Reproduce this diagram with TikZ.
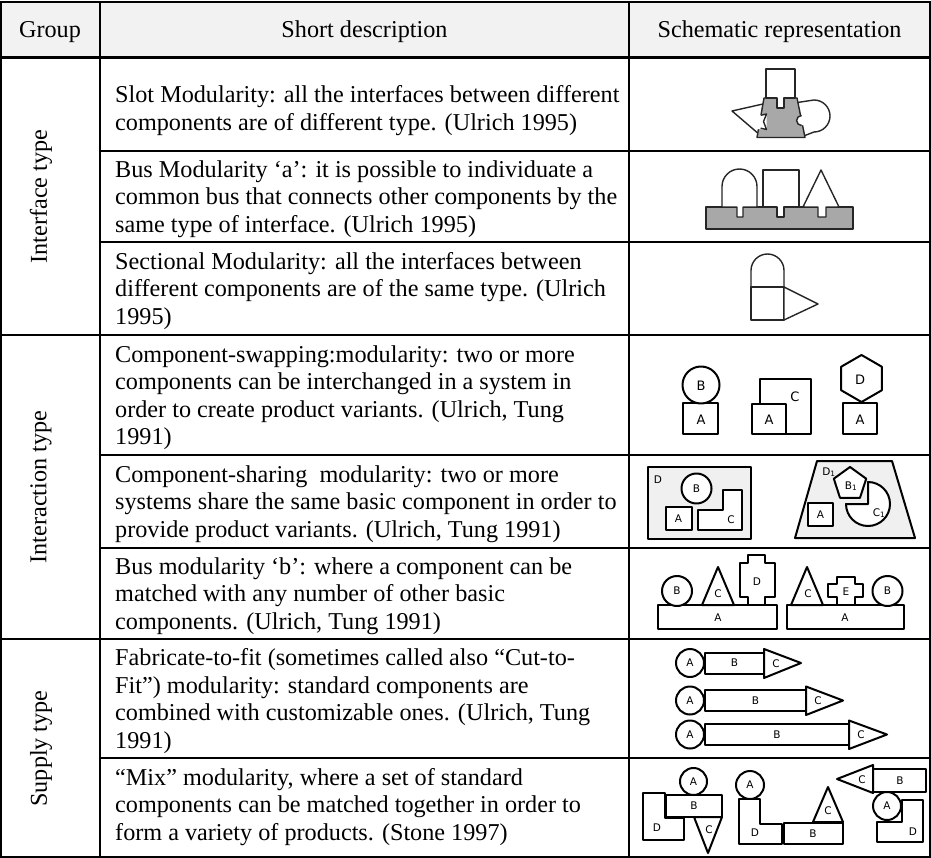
\documentclass[tikz,border=0pt]{standalone}
\usepackage{fontspec}
\setmainfont{Liberation Serif}
\newfontfamily\lblfont{DejaVu Sans}
\definecolor{hdrgray}{RGB}{242,242,242}
\definecolor{partgray}{RGB}{168,168,168}
\definecolor{panelgray}{RGB}{240,240,240}
\begin{document}
\begin{tikzpicture}[x=1pt,y=-1pt,line join=round,
  body/.style={font=\fontsize{24.2}{27.6}\selectfont,inner sep=0pt,anchor=north west,align=left},
  hdr/.style={font=\fontsize{24.2}{27.6}\selectfont,inner sep=0pt,anchor=base},
  grp/.style={font=\fontsize{24.2}{27.6}\selectfont,inner sep=0pt,rotate=90},
  thickrule/.style={line width=2.4pt},
  thinrule/.style={line width=1.6pt},
  thin/.style={draw=black!85,line width=1.4pt},
  shp/.style={draw=black,line width=2pt,fill=white},
  lbl/.style={font=\lblfont\fontsize{10.5}{10.5}\selectfont,inner sep=0pt},
  biglbl/.style={font=\lblfont\fontsize{13}{13}\selectfont,inner sep=0pt}]
\useasboundingbox (0,0) rectangle (931,858);

% header band
\fill[hdrgray] (1,2) rectangle (930,57.5);

% rules of the table
\draw[thickrule] (0,2) -- (931,2);
\draw[thickrule] (1,57.5) -- (930,57.5);
\draw[thinrule] (100,151) -- (930,151);
\draw[thinrule] (100,242) -- (930,242);
\draw[thickrule] (1,335) -- (930,335);
\draw[thinrule] (100,455) -- (930,455);
\draw[thinrule] (100,548) -- (930,548);
\draw[thickrule] (1,639) -- (930,639);
\draw[thinrule] (100,758) -- (930,758);
\draw[thickrule] (0,857) -- (931,857);
\foreach \xx in {1,100,629,930} \draw[thinrule] (\xx,2) -- (\xx,857);

% header
\node[hdr] (hgroup) at (50,37.5) {Group};
\node[hdr] (hdesc) at (364.5,37.5) {Short description};
\node[hdr] (hschem) at (779.5,37.5) {Schematic representation};

% group labels
\node[grp] (g1) at (41,196.5) {Interface type};
\node[grp] (g2) at (41,487) {Interaction type};
\node[grp] (g3) at (41,748.5) {Supply type};

% descriptions
\node[body] (d1) at (115,83.2) {\strut Slot Modularity: all the interfaces between different\\
\strut components are of different type. (Ulrich 1995)};
\node[body] (d2) at (115,157.8) {\strut Bus Modularity ‘a’: it is possible to individuate a\\
\strut common bus that connects other components by the\\
\strut same type of interface. (Ulrich 1995)};
\node[body] (d3) at (115,249.8) {\strut Sectional Modularity: all the interfaces between\\
\strut different components are of the same type. (Ulrich\\
\strut 1995)};
\node[body] (d4) at (115,342.5) {\strut Component-swapping:modularity: two or more\\
\strut components can be interchanged in a system in\\
\strut order to create product variants. (Ulrich, Tung\\
\strut 1991)};
\node[body] (d5) at (115,462.8) {\strut Component-sharing\ \ modularity: two or more\\
\strut systems share the same basic component in order to\\
\strut provide product variants. (Ulrich, Tung 1991)};
\node[body] (d6) at (115,554.8) {\strut Bus modularity ‘b’: where a component can be\\
\strut matched with any number of other basic\\
\strut components. (Ulrich, Tung 1991)};
\node[body] (d7) at (115,646.0) {\strut Fabricate-to-fit (sometimes called also “Cut-to-\\
\strut Fit”) modularity: standard components are\\
\strut combined with customizable ones. (Ulrich, Tung\\
\strut 1991)};
\node[body] (d8) at (115,765.7) {\strut “Mix” modularity, where a set of standard\\
\strut components can be matched together in order to\\
\strut form a variety of products. (Stone 1997)};

% ---- slot modularity
\draw[thin,fill=white] (732,111) -- (763,104) -- (760,135) -- cycle;
\draw[thin,fill=white] (794,103) -- (814,100) arc[start angle=90,end angle=-90,radius=16pt] -- (801,137) -- cycle;
\draw[thin,fill=partgray] (764,98) -- (797,98) -- (805,137.5) -- (757,137.5) -- cycle;
\draw[thin,fill=white] (766,69) -- (795,69) -- (795,98) -- (784,98) -- (784,108) -- (777,108) -- (777,98) -- (766,98) -- cycle;
\fill[white] (801.6,120.5) circle[radius=5pt];
\draw[thin] (801.6,115.5) arc[start angle=90,end angle=270,radius=5pt];
\fill[white] (756,115.5) -- (766.5,114) -- (766.5,129.5) -- (756,129) -- cycle;
\draw[thin] (760.7,115.3) -- (766.5,114) -- (763.5,121.5) -- (766.5,129.5) -- (760.6,128.2);

% ---- bus modularity a
\draw[thin,fill=partgray] (706,207) rectangle (853,229);
\draw[thin,fill=white] (722,207) -- (722,186.5) arc[start angle=180,end angle=0,radius=17.5pt] -- (757,207) -- (743,207) -- (743,217) -- (737,217) -- (737,207) -- cycle;
\draw[thin,fill=white] (763,207) -- (763,170) -- (799,170) -- (799,207) -- (784,207) -- (784,217) -- (777,217) -- (777,207) -- cycle;
\draw[thin,fill=white] (803,207) -- (821,170) -- (839,207) -- (826,207) -- (826,217) -- (818,217) -- (818,207) -- cycle;

% ---- sectional modularity
\draw[thin,fill=white] (751,287) -- (751,270.5) arc[start angle=180,end angle=0,radius=16.5pt] -- (784,287) -- cycle;
\draw[thin,fill=white] (751,287) rectangle (784,320);
\draw[thin,fill=white] (784,287) -- (818,304) -- (784,320) -- cycle;

% ---- component swapping
\draw[shp] (683,403) rectangle (718,434);
\draw[shp] (701,385) circle[radius=18.5pt];
\node[biglbl] (s1b) at (701,386) {B};
\node[biglbl] (s1a) at (701,420) {A};
\draw[shp] (760,379) rectangle (811,433.5);
\draw[shp] (752,404) rectangle (786,433.5);
\node[biglbl] (s2c) at (795,397) {C};
\node[biglbl] (s2a) at (769,420) {A};
\draw[shp] (843,403) rectangle (877,433.5);
\draw[shp] (861.5,355) -- (881.85,366.75) -- (881.85,390.25) -- (861.5,402) -- (841.15,390.25) -- (841.15,366.75) -- cycle;
\node[biglbl] (s3d) at (860,380) {D};
\node[biglbl] (s3a) at (860,420) {A};

% ---- component sharing
\draw[shp,fill=panelgray] (648,467) rectangle (751,539);
\node[lbl] (p1d) at (658,480) {D};
\draw[shp] (696.5,488.5) circle[radius=15pt];
\node[lbl] (p1b) at (696.5,489) {B};
\draw[shp] (665.5,507) rectangle (692,530);
\node[lbl] (p1a) at (678.5,519) {A};
\draw[shp] (698,510) -- (723,510) -- (723,490) -- (742,490) -- (742,530) -- (698,530) -- cycle;
\node[lbl] (p1c) at (731,520) {C};
\draw[shp,fill=panelgray] (817,461) -- (892,461) -- (915,538) -- (795,538) -- cycle;
\node[lbl] (p2d) at (829,472) {D\textsubscript{1}};
\draw[shp] (850,467) -- (866.2,478.7) -- (860,497.8) -- (840,497.8) -- (833.8,478.7) -- cycle;
\node[lbl] (p2b) at (851,486) {B\textsubscript{1}};
\draw[shp] (808,503) rectangle (833,526);
\node[lbl] (p2a) at (820.5,515) {A};
\draw[shp] (868,482) arc[start angle=90,end angle=-180,radius=22pt] -- (868,504) -- cycle;
\node[lbl] (p2c) at (879,513) {C\textsubscript{1}};

% ---- bus modularity b
\draw[shp] (658,605) rectangle (777,629);
\node[lbl] (b1a) at (718,618) {A};
\draw[shp] (677,591) circle[radius=15pt];
\node[lbl] (b1b) at (677,591) {B};
\draw[shp] (702,605) -- (718,567) -- (734,605) -- cycle;
\node[lbl] (b1c) at (718,594) {C};
\draw[shp] (748,555) -- (765,555) -- (765,563) -- (775,563) -- (775,597) -- (765,597) -- (765,605) -- (748,605) -- (748,597) -- (740,597) -- (740,563) -- (748,563) -- cycle;
\node[lbl] (b1d) at (757,582) {D};
\draw[shp] (787,605) rectangle (904,629);
\node[lbl] (b2a) at (845,618) {A};
\draw[shp] (791,605) -- (807,567) -- (823,605) -- cycle;
\node[lbl] (b2c) at (808,594) {C};
\draw[shp] (837,577) -- (855,577) -- (855,584) -- (863,584) -- (863,597) -- (855,597) -- (855,605) -- (837,605) -- (837,597) -- (828,597) -- (828,584) -- (837,584) -- cycle;
\node[lbl] (b2e) at (846,592) {E};
\draw[shp] (887.5,591) circle[radius=15pt];
\node[lbl] (b2b) at (887.5,591) {B};

% ---- fabricate to fit
\draw[shp] (705,652.5) rectangle (764,673.5);
\draw[shp] (764,649) -- (801,663) -- (764,678) -- cycle;
\draw[shp] (690,663) circle[radius=14pt];
\node[lbl] (f1a) at (690,663) {A};
\node[lbl] (f1b) at (734.5,663) {B};
\node[lbl] (f1c) at (776,664) {C};
\draw[shp] (705,690) rectangle (806,711);
\draw[shp] (806,686.5) -- (843,700.5) -- (806,715) -- cycle;
\draw[shp] (690,700.5) circle[radius=14pt];
\node[lbl] (f2a) at (690,700.5) {A};
\node[lbl] (f2b) at (755.5,700.5) {B};
\node[lbl] (f2c) at (818,701) {C};
\draw[shp] (705,724) rectangle (849,745);
\draw[shp] (849,720.5) -- (887,734.5) -- (849,749) -- cycle;
\draw[shp] (690,734.5) circle[radius=14pt];
\node[lbl] (f3a) at (690,734.5) {A};
\node[lbl] (f3b) at (777,734.5) {B};
\node[lbl] (f3c) at (861,735) {C};

% ---- mix modularity
\draw[shp] (643,793) -- (665,793) -- (665,818) -- (684,818) -- (684,840) -- (643,840) -- cycle;
\node[lbl] (m1d) at (657,828) {D};
\draw[shp] (694,817) -- (722,817) -- (708,853) -- cycle;
\node[lbl] (m1c) at (709,830) {C};
\draw[shp] (666,795) rectangle (722,817);
\node[lbl] (m1b) at (694,806) {B};
\draw[shp] (693.5,781.5) circle[radius=13.5pt];
\node[lbl] (m1a) at (693.5,781.5) {A};

\draw[shp] (739,799) -- (760,799) -- (760,824) -- (782,824) -- (782,844) -- (739,844) -- cycle;
\node[lbl] (m2d) at (755,833) {D};
\draw[shp] (750,785) circle[radius=14pt];
\node[lbl] (m2a) at (750,785) {A};
\draw[shp] (784,823) rectangle (843,844);
\node[lbl] (m2b) at (813,834) {B};
\draw[shp] (813,822) -- (828,787) -- (843,822) -- cycle;
\node[lbl] (m2c) at (828,811) {C};

\draw[shp] (873,769) rectangle (926,792);
\node[lbl] (m3b) at (900,781) {B};
\draw[shp] (873,765) -- (837,779) -- (873,793) -- cycle;
\node[lbl] (m3c) at (862,780) {C};
\draw[shp] (902,800) -- (923,800) -- (923,842) -- (877,842) -- (877,822) -- (902,822) -- cycle;
\node[lbl] (m3d) at (913,832) {D};
\draw[shp] (887,806) circle[radius=14pt];
\node[lbl] (m3a) at (887,806) {A};
\end{tikzpicture}
\end{document}
